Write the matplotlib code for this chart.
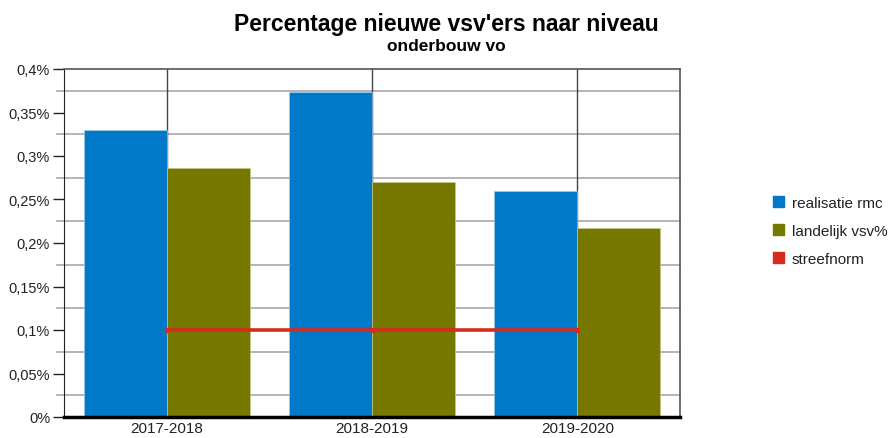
import numpy as np
import matplotlib.pyplot as plt
from matplotlib.patches import Patch
from matplotlib.ticker import FuncFormatter, MultipleLocator

# gegevens
jaren = ['2017-2018', '2018-2019', '2019-2020']
realisatie_rmc = [0.330, 0.374, 0.260]
landelijk_vsv = [0.286, 0.2705, 0.217]
streefnorm = [0.1, 0.1, 0.1]

BLAUW = '#0079c8'
OLIJF = '#767800'
ROOD = '#d62b1f'

plt.rcParams['font.family'] = ['Liberation Sans', 'DejaVu Sans']

fig = plt.figure(figsize=(8.88, 4.39), dpi=100)
ax = fig.add_axes([64 / 888, 21 / 439, 616 / 888, 348 / 439])

x = np.arange(len(jaren))
breedte = 0.405

# rasterlijnen tussen de labels, verticale lijnen op categoriemidden
for y in np.arange(0.025, 0.4, 0.05):
    ax.plot([-0.535, 2.5], [y, y], color='#a8a8a8', lw=1.2, zorder=1, clip_on=False)
for xi in x:
    ax.axvline(xi, color='#444444', lw=1.0, zorder=1)

ax.bar(x - breedte / 2, realisatie_rmc, breedte, color=BLAUW, edgecolor='#9fc9e6',
       linewidth=0.5, zorder=2)
ax.bar(x + breedte / 2, landelijk_vsv, breedte, color=OLIJF, edgecolor='#c8c98a',
       linewidth=0.5, zorder=2)
ax.plot(x, streefnorm, color=ROOD, lw=2.6, marker='o', markersize=3, zorder=3)

ax.set_xlim(-0.5, 2.5)
ax.set_ylim(0, 0.4)
ax.yaxis.set_major_locator(MultipleLocator(0.05))
ax.yaxis.set_major_formatter(FuncFormatter(
    lambda v, p: ('%g' % round(v, 3)).replace('.', ',') + '%'))
ax.set_xticks(x)
ax.set_xticklabels(jaren)
ax.tick_params(axis='y', length=8, width=1, color='#222222', labelsize=10.5, pad=2,
               labelcolor='#222222')
ax.tick_params(axis='x', length=0, labelsize=11, pad=3, labelcolor='#222222')

for kant in ['top', 'right']:
    ax.spines[kant].set_color('#555555')
    ax.spines[kant].set_linewidth(1.2)
ax.spines['left'].set_color('#222222')
ax.spines['bottom'].set_color('black')
ax.spines['bottom'].set_linewidth(2.5)

fig.text(0.503, 0.945, "Percentage nieuwe vsv'ers naar niveau", ha='center', va='center',
         fontsize=16.5, fontweight='bold')
fig.text(0.503, 0.895, 'onderbouw vo', ha='center', va='center', fontsize=12.5,
         fontweight='bold')

handles = [Patch(color=BLAUW, label='realisatie rmc'),
           Patch(color=OLIJF, label='landelijk vsv%'),
           Patch(color=ROOD, label='streefnorm')]
fig.legend(handles=handles, loc='center left', bbox_to_anchor=(0.871, 0.472),
           frameon=False, fontsize=11, handlelength=0.7, handleheight=0.7,
           handletextpad=0.5, labelspacing=0.9, borderpad=0, borderaxespad=0,
           labelcolor='#222222')

fig.savefig('out.png', dpi=100)
